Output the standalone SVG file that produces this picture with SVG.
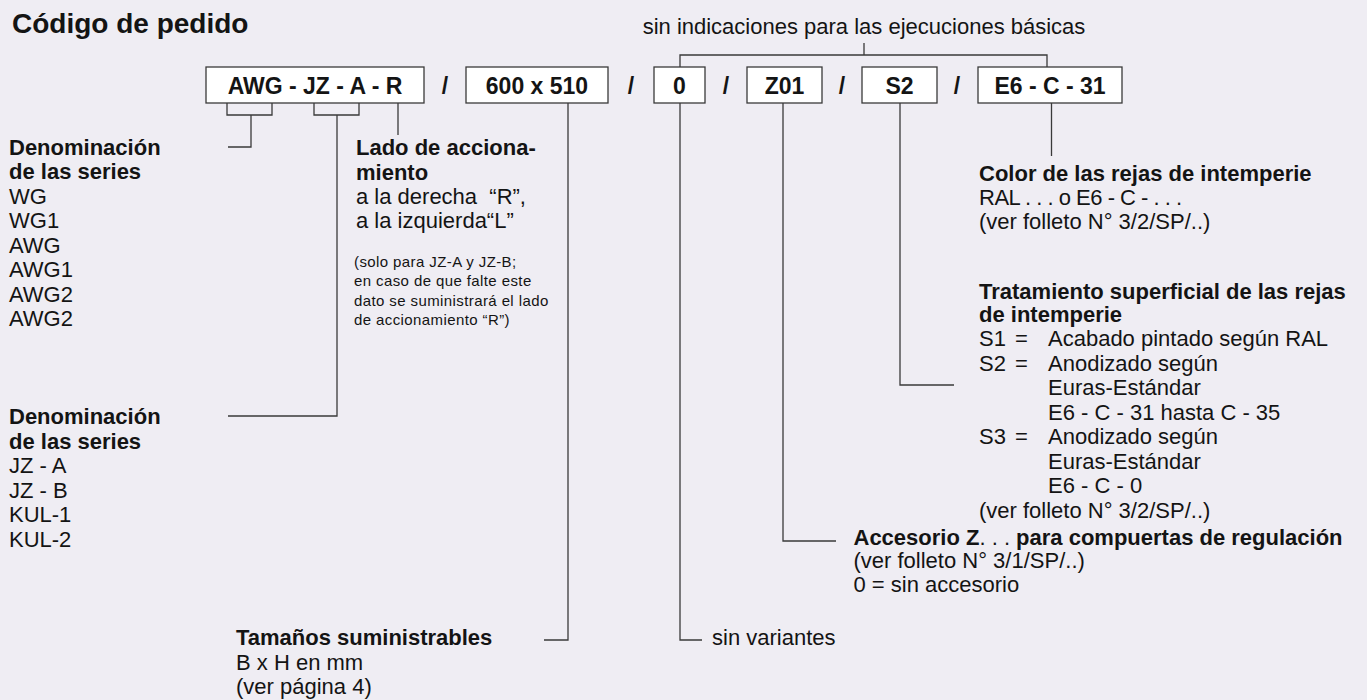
<svg xmlns="http://www.w3.org/2000/svg" width="1367" height="700" viewBox="0 0 1367 700">
<style>
text{font-family:"Liberation Sans",Arial,Helvetica,sans-serif;fill:#141414}
.b{font-weight:bold;font-size:22px}
.r{font-size:22px}
.t{font-weight:bold;font-size:28px}
.bx{font-weight:bold;font-size:23px;text-anchor:middle}
.s{font-size:15px;letter-spacing:0.4px}
.box{fill:#ffffff;stroke:#3a3a3a;stroke-width:1.3}
.ln{fill:none;stroke:#3a3a3a;stroke-width:1.3}
</style>
<rect width="1367" height="700" fill="#efedf3"/>
<text class="t" x="12" y="33">Código de pedido</text>
<text class="r" x="864" y="34" text-anchor="middle">sin indicaciones para las ejecuciones básicas</text>

<g id="code-boxes">
<g id="box-awg"><rect class="box" x="206" y="67" width="218" height="36"/><text class="bx" x="315" y="94">AWG - JZ - A - R</text></g>
<text class="bx" x="445" y="94">/</text>
<g id="box-size"><rect class="box" x="466" y="67" width="142" height="36"/><text class="bx" x="537" y="94">600 x 510</text></g>
<text class="bx" x="631" y="94">/</text>
<g id="box-0"><rect class="box" x="654" y="67" width="51" height="36"/><text class="bx" x="679.5" y="94">0</text></g>
<text class="bx" x="726" y="94">/</text>
<g id="box-z01"><rect class="box" x="747" y="67" width="75" height="36"/><text class="bx" x="784.5" y="94">Z01</text></g>
<text class="bx" x="842" y="94">/</text>
<g id="box-s2"><rect class="box" x="862" y="67" width="75" height="36"/><text class="bx" x="899.5" y="94">S2</text></g>
<text class="bx" x="957" y="94">/</text>
<g id="box-e6"><rect class="box" x="978" y="67" width="144" height="36"/><text class="bx" x="1050" y="94">E6 - C - 31</text></g>
</g>

<g id="connectors">
<path class="ln" d="M227,103 V115 H272 V103 M251,115 V147 H228"/>
<path class="ln" d="M314,103 V115 H359 V103 M337,115 V416 H228"/>
<path class="ln" d="M398,103 V135"/>
<path class="ln" d="M568,103 V640 H544"/>
<path class="ln" d="M680,103 V640 H702"/>
<path class="ln" d="M680,67 V55 H1047 V67 M864,55 V43"/>
<path class="ln" d="M783,103 V541 H836"/>
<path class="ln" d="M900,103 V385 H954"/>
<path class="ln" d="M1051.5,103 V156"/>
</g>

<g id="series1">
<text class="b" x="9" y="154.5">Denominación</text>
<text class="b" x="9" y="179">de las series</text>
<text class="r" x="9" y="203.5">WG</text>
<text class="r" x="9" y="228">WG1</text>
<text class="r" x="9" y="252.5">AWG</text>
<text class="r" x="9" y="277">AWG1</text>
<text class="r" x="9" y="301.5">AWG2</text>
<text class="r" x="9" y="326">AWG2</text>
</g>

<g id="series2">
<text class="b" x="9" y="424">Denominación</text>
<text class="b" x="9" y="448.5">de las series</text>
<text class="r" x="9" y="473">JZ - A</text>
<text class="r" x="9" y="497.5">JZ - B</text>
<text class="r" x="9" y="522">KUL-1</text>
<text class="r" x="9" y="546.5">KUL-2</text>
</g>

<g id="lado">
<text class="b" x="356" y="155">Lado de acciona-</text>
<text class="b" x="356" y="179.5">miento</text>
<text class="r" x="356" y="203.5">a la derecha&#160; “R”,</text>
<text class="r" x="356" y="228">a la izquierda“L”</text>
<text class="s" x="354" y="266.5">(solo para JZ-A y JZ-B;</text>
<text class="s" x="354" y="286">en caso de que falte este</text>
<text class="s" x="354" y="305.5">dato se suministrará el lado</text>
<text class="s" x="354" y="325">de accionamiento “R”)</text>
</g>

<g id="color">
<text class="b" x="979" y="180.5">Color de las rejas de intemperie</text>
<text class="r" x="979" y="205" letter-spacing="-0.5">RAL . . . o E6 - C - . . .</text>
<text class="r" x="979" y="228.5">(ver folleto N° 3/2/SP/..)</text>
</g>

<g id="tratamiento">
<text class="b" x="979" y="298.5">Tratamiento superficial de las rejas</text>
<text class="b" x="979" y="322">de intemperie</text>
<text class="r" x="979" y="346">S1</text><text class="r" x="1015" y="346">=</text><text class="r" x="1048" y="346">Acabado pintado según RAL</text>
<text class="r" x="979" y="370.5">S2</text><text class="r" x="1015" y="370.5">=</text><text class="r" x="1048" y="370.5">Anodizado según</text>
<text class="r" x="1048" y="395">Euras-Estándar</text>
<text class="r" x="1048" y="419.5">E6 - C - 31 hasta C - 35</text>
<text class="r" x="979" y="444">S3</text><text class="r" x="1015" y="444">=</text><text class="r" x="1048" y="444">Anodizado según</text>
<text class="r" x="1048" y="468.5">Euras-Estándar</text>
<text class="r" x="1048" y="493">E6 - C - 0</text>
<text class="r" x="979" y="517.5">(ver folleto N° 3/2/SP/..)</text>
</g>

<g id="accesorio">
<text class="b" x="853.5" y="544.5">Accesorio Z<tspan font-weight="normal">. . .</tspan> para compuertas de regulación</text>
<text class="r" x="853.5" y="568">(ver folleto N° 3/1/SP/..)</text>
<text class="r" x="853.5" y="592">0 = sin accesorio</text>
</g>

<g id="tamanos">
<text class="b" x="236" y="645">Tamaños suministrables</text>
<text class="r" x="236" y="669.5">B x H en mm</text>
<text class="r" x="236" y="694">(ver página 4)</text>
</g>

<g id="variantes">
<text class="r" x="712" y="645">sin variantes</text>
</g>
</svg>
